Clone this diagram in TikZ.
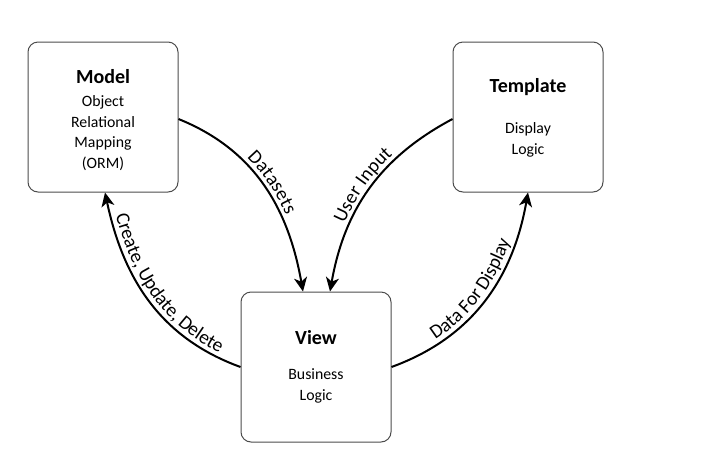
\documentclass[tikz,border=0pt]{standalone}
\usepackage{fontspec}
\setmainfont{Carlito}
\usetikzlibrary{arrows.meta,decorations.text}

\begin{document}
\begin{tikzpicture}[
	x=1pt, y=1pt,
	box/.style={draw=black!70, line width=1pt, rounded corners=10pt, rectangle, minimum width=150pt, minimum height=150pt},
	head/.style={font=\fontsize{20}{24}\selectfont\bfseries, inner sep=0pt},
	body/.style={align=center, font=\fontsize{15.8}{20.5}\selectfont, inner sep=0pt},
	flow/.style={line width=2pt, -{Stealth[length=14pt, width=13pt, inset=4pt]}},
	tag/.style={decoration={text along path, text align=center, raise=5pt, text={|\fontsize{19.5}{19.5}\selectfont|#1}}, postaction={decorate}}
	]
		\useasboundingbox (0,0) rectangle (705,-459);

		% Nodes
		\node[box] (model) at (103,-117) {};
		\node[box] (template) at (528,-117) {};
		\node[box] (view) at (316,-367) {};

		\node[head] (model-head) at (103,-77) {Model};
		\node[body] (model-text) at (103,-133) {Object\\Relational\\Mapping\\(ORM)};
		\node[head] (template-head) at (528,-87) {Template};
		\node[body] (template-text) at (528,-140) {Display\\Logic};
		\node[head] (view-head) at (316,-338) {View};
		\node[body] (view-text) at (316,-386) {Business\\Logic};

		% Connectors
		\draw[flow, tag=Datasets] ([yshift=-2]model.east) to[out=-22, in=100] ([xshift=-13]view.north);
		\draw[flow] ([yshift=-2]template.west) to[out=208, in=80] ([xshift=14]view.north);
		\path[tag=User Input] ([xshift=14]view.north) to[out=80, in=208] ([yshift=-2]template.west);
		\draw[flow] (view.west) to[out=160, in=-78] ([xshift=2]model.south);
		\path[tag={Create, Update, Delete}] ([xshift=2]model.south) to[out=-78, in=160] (view.west);
		\draw[flow, tag={Data For Display}] (view.east) to[out=20, in=-100] (template.south);
	\end{tikzpicture}
\end{document}
